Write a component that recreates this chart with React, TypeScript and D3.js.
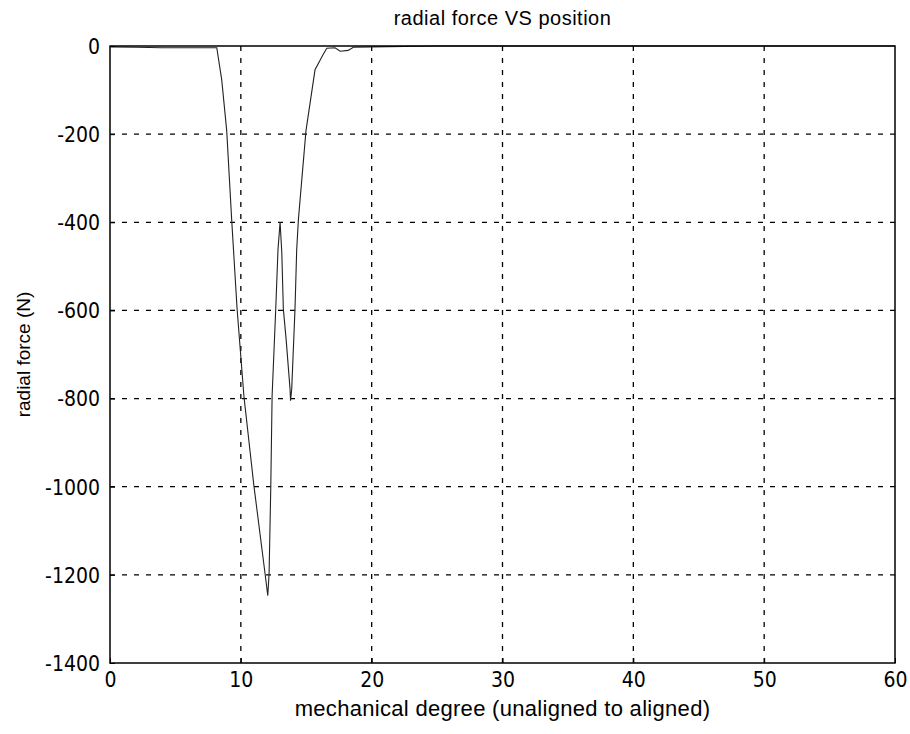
import { useEffect, useRef } from "react";
import * as d3 from "d3";

// mechanical degree (deg) and radial force (N)
const degrees = [
	0, 2, 4, 6, 7.5, 8.16, 8.54, 8.92, 9.3, 9.71, 10.24, 11.0, 11.85, 12.06,
	12.16, 12.29, 12.39, 12.67, 12.84, 13.0, 13.13, 13.25, 13.46, 13.76, 13.8,
	13.89, 14.14, 14.27, 14.4, 14.53, 14.98, 15.67, 16.28, 16.57, 17.2, 17.6,
	18.2, 18.6, 20, 25, 60,
];
const forces = [
	-2, -3, -4, -4, -4, -4, -77, -192, -394, -595, -796, -998, -1197, -1247,
	-1197, -998, -794, -595, -462, -400, -468, -597, -665, -778, -805,
	-778, -597, -462, -394, -348, -192, -54, -20, -5, -4, -12,
	-10, -3, -2, 0, 0,
];

const xTicks = [0, 10, 20, 30, 40, 50, 60];
const yTicks = [0, -200, -400, -600, -800, -1000, -1200, -1400];

const titleText = "radial force VS position";
const xLabelText = "mechanical degree (unaligned to aligned)";
const yLabelText = "radial force (N)";

export default function App() {
	const ref = useRef<SVGSVGElement>(null);

	useEffect(() => {
		const svg = d3.select(ref.current);
		svg.selectAll("*").remove();

		// plot box in page pixels
		const margin = { top: 46, right: 15, bottom: 71, left: 110 };
		const W = 910, H = 734;
		const width = W - margin.left - margin.right;
		const height = H - margin.top - margin.bottom;
		const font = "'Liberation Sans', Arial, sans-serif";
		const narrow = "'Liberation Sans Narrow', 'DejaVu Sans Condensed', 'Liberation Sans', sans-serif";

		const g = svg.append("g")
			.attr("transform", `translate(${margin.left},${margin.top})`);

		const x = d3.scaleLinear().domain([0, 60]).range([0, width]);
		const y = d3.scaleLinear().domain([-1400, 0]).range([height, 0]);

		// dashed grid
		g.append("g")
			.selectAll("line")
			.data(xTicks.slice(1, -1))
			.enter()
			.append("line")
			.attr("x1", d => x(d)).attr("x2", d => x(d))
			.attr("y1", 0).attr("y2", height)
			.attr("stroke", "#000")
			.attr("stroke-width", 1.3)
			.attr("stroke-dasharray", "5,7");

		g.append("g")
			.selectAll("line")
			.data(yTicks.slice(1, -1))
			.enter()
			.append("line")
			.attr("x1", 0).attr("x2", width)
			.attr("y1", d => y(d)).attr("y2", d => y(d))
			.attr("stroke", "#000")
			.attr("stroke-width", 1.3)
			.attr("stroke-dasharray", "5,7");

		// curve
		const line = d3.line<number>()
			.x((_, i) => x(degrees[i]))
			.y(d => y(d));

		g.append("path")
			.datum(forces)
			.attr("d", line)
			.attr("fill", "none")
			.attr("stroke", "#222")
			.attr("stroke-width", 1.1);

		// axes box
		g.append("rect")
			.attr("x", 0).attr("y", 0)
			.attr("width", width).attr("height", height)
			.attr("fill", "none")
			.attr("stroke", "#000")
			.attr("stroke-width", 1.5);

		// tick labels (plain hyphen minus, like the original)
		const xAxis = g.append("g")
			.attr("transform", `translate(0,${height})`)
			.call(d3.axisBottom(x).tickValues(xTicks).tickSize(-5).tickFormat(d => String(d)));
		const yAxis = g.append("g")
			.call(d3.axisLeft(y).tickValues(yTicks).tickSize(-5).tickFormat(d => String(d)));

		[xAxis, yAxis].forEach(ax => {
			ax.select(".domain").remove();
			ax.selectAll(".tick line").attr("stroke", "#000");
			ax.selectAll("text")
				.attr("font-family", narrow)
				.attr("font-size", "21px")
				.attr("fill", "#000");
		});
		xAxis.selectAll("text").attr("dy", "0.71em").attr("y", 9);
		yAxis.selectAll("text").attr("x", -10).attr("dy", "0.35em");

		// title and axis labels
		svg.append("text")
			.attr("x", margin.left + width / 2)
			.attr("y", 25)
			.attr("text-anchor", "middle")
			.attr("font-family", font)
			.attr("font-size", "20px")
			.attr("letter-spacing", "0.5px")
			.text(titleText);

		svg.append("text")
			.attr("x", margin.left + width / 2)
			.attr("y", 716)
			.attr("text-anchor", "middle")
			.attr("font-family", font)
			.attr("font-size", "22px")
			.attr("letter-spacing", "0.3px")
			.text(xLabelText);

		svg.append("text")
			.attr("transform", "rotate(-90)")
			.attr("x", -(margin.top + height / 2))
			.attr("y", 30)
			.attr("text-anchor", "middle")
			.attr("font-family", font)
			.attr("font-size", "19px")
			.text(yLabelText);
	}, []);

	return (
		<svg
			ref={ref}
			width={910}
			height={734}
			style={{ position: "absolute", left: 0, top: 0, background: "#fff" }}
		/>
	);
}
